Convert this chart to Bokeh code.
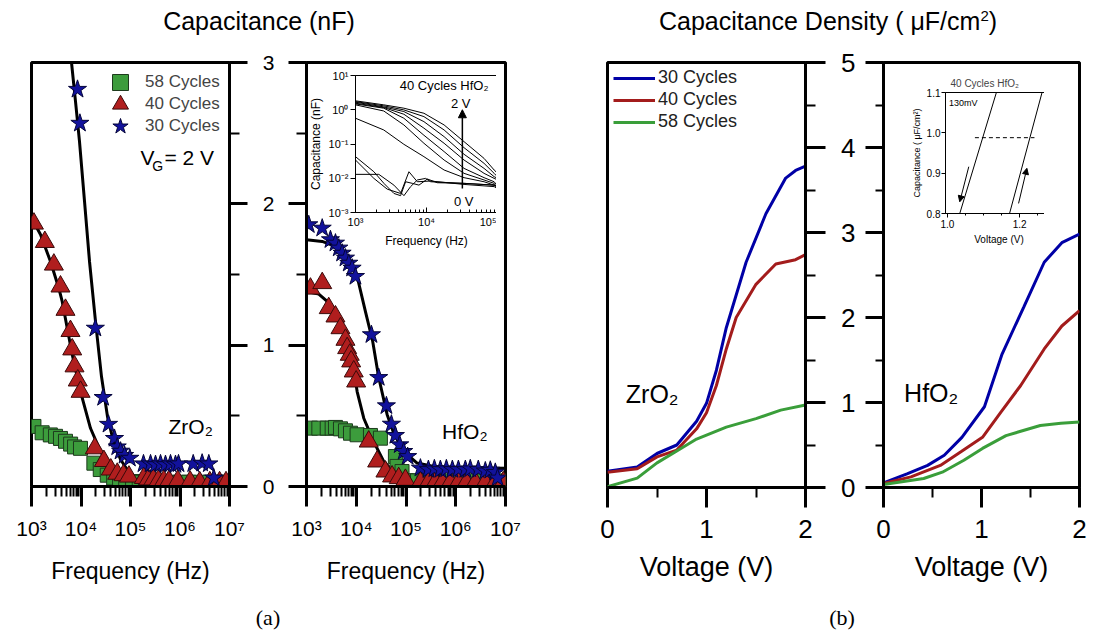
from bokeh.plotting import figure
from bokeh.models import (Range1d, FixedTicker, SingleIntervalTicker, CustomJSTickFormatter,
                          PrintfTickFormatter, Label, Arrow, NormalHead, GridBox, Legend,
                          LegendItem, Div)
from bokeh.embed import file_html
from bokeh.resources import INLINE

FONT = "Liberation Sans"
SERIF = "Liberation Serif"
BLUE_M, RED_M, GREEN_M = "#12129c", "#b01e1e", "#3c9c3c"
BLUE_L, RED_L, GREEN_L = "#0000a6", "#a31c1c", "#3a9e3a"

# ---------------- panel (a): capacitance (nF) vs frequency (Hz) ----------------
zr30_f = [8500, 9500, 19500, 28000, 36000, 47500, 54000, 63000, 76000, 97000, 183000, 254000,
          320000, 404000, 509000, 643000, 811000, 933000, 1850000, 2800000, 3820000, 4820000]
zr30_c = [2.81, 2.57, 1.12, 0.63, 0.44, 0.34, 0.28, 0.25, 0.22, 0.20, 0.16, 0.16,
          0.155, 0.16, 0.155, 0.16, 0.155, 0.16, 0.16, 0.165, 0.16, 0.06]
zr40_f = [1120, 1860, 2830, 3850, 4860, 6130, 6650, 7400, 8600, 9800, 19000, 29000, 40000, 54000,
          72000, 93000, 186000, 230000, 290000, 370000, 470000, 600000, 900000, 1600000, 2500000,
          4000000, 6300000, 8500000]
zr40_c = [1.86, 1.73, 1.57, 1.415, 1.25, 1.10, 0.97, 0.85, 0.75, 0.67, 0.27, 0.18, 0.12, 0.09,
          0.08, 0.07, 0.06, 0.05, 0.05, 0.045, 0.04, 0.04, 0.04, 0.035, 0.03, 0.03, 0.03, 0.03]
zr58_f = [1120, 1640, 2400, 3060, 3850, 4860, 6170, 7410, 9770, 18200, 24500, 33900, 45700, 60000,
          80000, 110000, 150000, 200000, 300000, 450000, 700000, 1000000, 1500000, 2500000,
          4000000, 6000000, 8500000]
zr58_c = [0.425, 0.38, 0.365, 0.355, 0.34, 0.32, 0.30, 0.28, 0.27, 0.165, 0.12, 0.08, 0.06, 0.045,
          0.04, 0.035, 0.03, 0.03, 0.03, 0.03, 0.03, 0.03, 0.03, 0.03, 0.03, 0.03, 0.03]
zr30_fit_f = [6030, 6430, 7740, 9330, 11780, 14860, 19630, 25940, 34280, 45400, 62800, 91200, 138000]
zr30_fit_c = [3.2, 3.0, 2.725, 2.44, 2.017, 1.592, 1.168, 0.778, 0.495, 0.318, 0.191, 0.106, 0.035]
zr40_fit_f = [1000, 1520, 2420, 3560, 4170, 6640, 9770, 15560, 24770, 39450, 73300, 114800]
zr40_fit_c = [1.90, 1.783, 1.592, 1.403, 1.309, 0.934, 0.672, 0.412, 0.248, 0.130, 0.047, 0.0]

hf30_f = [1110, 2070, 3030, 3820, 4460, 5200, 6070, 7080, 8260, 9640, 20200, 28300, 40400, 50900,
          61200, 74800, 89900, 108000, 195000, 282000, 372000, 491000, 648000, 855000, 1130000,
          1560000, 1960000, 2840000, 3930000, 4950000, 6240000, 6930000]
hf30_c = [1.852, 1.828, 1.746, 1.722, 1.687, 1.651, 1.616, 1.580, 1.545, 1.486, 1.074, 0.771, 0.571,
          0.441, 0.361, 0.295, 0.248, 0.212, 0.13, 0.12, 0.125, 0.12, 0.125, 0.12, 0.12, 0.12, 0.125,
          0.12, 0.11, 0.115, 0.10, 0.06]
hf40_f = [1200, 2070, 2800, 3820, 4820, 6070, 6560, 7400, 7900, 8900, 9950, 17800, 26300, 38600,
          52500, 71300, 97300, 195000, 282000, 389000, 538000, 780000, 1130000, 1630000, 2480000,
          3930000, 6240000, 9040000]
hf40_c = [1.40, 1.439, 1.262, 1.203, 1.12, 1.038, 0.979, 0.932, 0.885, 0.814, 0.743, 0.318, 0.177,
          0.106, 0.071, 0.059, 0.047, 0.03, 0.03, 0.03, 0.03, 0.03, 0.03, 0.03, 0.03, 0.03, 0.03, 0.03]
hf58_f = [1200, 1770, 2610, 3280, 3820, 4820, 6070, 7660, 10400, 19300, 30600, 61200, 66100, 83200,
          100000, 130000, 170000, 230000, 320000, 450000, 650000, 950000, 1400000, 2100000,
          3200000, 5000000, 8000000]
hf58_c = [0.413, 0.413, 0.413, 0.413, 0.418, 0.408, 0.394, 0.377, 0.366, 0.361, 0.342, 0.212, 0.142,
          0.106, 0.04, 0.04, 0.04, 0.04, 0.04, 0.04, 0.04, 0.04, 0.04, 0.04, 0.04, 0.04, 0.04]
hf30_fit_f = [1000, 2065, 3819, 7063, 10420, 15310, 21430, 28300, 41690, 56620, 89950, 167100,
              359700, 1236000, 10000000]
hf30_fit_c = [1.746, 1.734, 1.699, 1.604, 1.486, 1.238, 1.026, 0.771, 0.51, 0.376, 0.248, 0.166,
              0.141, 0.132, 0.13]
hf40_fit_f = [1000, 1766, 2606, 3819, 5530, 7656, 10420, 14160, 22440, 35650, 56620, 105200, 194600]
hf40_fit_c = [1.38, 1.361, 1.309, 1.226, 1.11, 0.979, 0.672, 0.483, 0.318, 0.177, 0.106, 0.059, 0.028]

# inset of (a): 40 cycles HfO2, gate voltage 0 V ... 2 V
ins_f = [1000, 2500, 4800, 9200, 17700, 33800, 64700, 89700, 100000]
ins_top = [
    [1.82, 1.39, 1.11, 0.79, 0.36, 0.117, 0.038, 0.0174, 0.014],
    [1.73, 1.30, 0.99, 0.63, 0.257, 0.078, 0.0272, 0.0139, 0.011],
    [1.66, 1.21, 0.885, 0.45, 0.164, 0.05, 0.0194, 0.0111, 0.010],
    [1.55, 1.16, 0.74, 0.29, 0.105, 0.034, 0.0139, 0.0099, 0.009],
    [1.48, 1.11, 0.565, 0.18, 0.06, 0.0194, 0.0104, 0.0079, 0.006],
    [1.39, 0.92, 0.36, 0.105, 0.034, 0.0139, 0.0089, 0.0071, 0.005],
    [0.565, 0.257, 0.098, 0.0427, 0.0174, 0.0104, 0.0079, 0.0063, 0.0055],
]
ins_b1_f = [1000, 1815, 2512, 3475, 4315, 5080, 6310, 7830, 10280, 14220, 33800, 89700, 100000]
ins_b1_c = [0.0427, 0.0155, 0.0071, 0.0036, 0.0031, 0.0079, 0.0071, 0.0063, 0.0095, 0.0074, 0.0071, 0.0063, 0.006]
ins_b2_f = [1000, 2130, 3475, 4810, 5970, 7430, 9730, 11460, 33800, 89700, 100000]
ins_b2_c = [0.013, 0.013, 0.0063, 0.0031, 0.0057, 0.0089, 0.0099, 0.0079, 0.0071, 0.0063, 0.0055]
ins_b3_f = [1000, 1815, 2800, 4315, 5660, 7430, 11460, 33800, 89700, 100000]
ins_b3_c = [0.034, 0.0099, 0.0048, 0.0036, 0.0155, 0.0079, 0.0083, 0.0066, 0.0057, 0.005]

# ---------------- panel (b): capacitance density vs voltage ----------------
bz30_v = [0, 0.3, 0.5, 0.7, 0.9, 1.0, 1.1, 1.2, 1.4, 1.6, 1.8, 1.9, 2.0]
bz30_d = [0.19, 0.24, 0.40, 0.50, 0.78, 0.99, 1.38, 1.88, 2.65, 3.22, 3.64, 3.73, 3.78]
bz40_v = [0, 0.3, 0.5, 0.7, 0.9, 1.0, 1.1, 1.2, 1.3, 1.5, 1.7, 1.9, 2.0]
bz40_d = [0.18, 0.22, 0.36, 0.44, 0.69, 0.88, 1.20, 1.63, 2.0, 2.39, 2.63, 2.68, 2.74]
bz58_v = [0, 0.3, 0.5, 0.7, 0.9, 1.2, 1.5, 1.75, 2.0]
bz58_d = [0.01, 0.11, 0.29, 0.43, 0.57, 0.71, 0.81, 0.91, 0.97]
bh30_v = [0, 0.24, 0.45, 0.62, 0.8, 1.03, 1.21, 1.43, 1.64, 1.82, 2.0]
bh30_d = [0.055, 0.16, 0.26, 0.38, 0.59, 0.95, 1.57, 2.12, 2.65, 2.88, 2.98]
bh40_v = [0, 0.28, 0.58, 0.79, 1.01, 1.2, 1.4, 1.64, 1.82, 2.0]
bh40_d = [0.047, 0.125, 0.26, 0.42, 0.59, 0.89, 1.2, 1.63, 1.9, 2.08]
bh58_v = [0, 0.41, 0.6, 0.82, 1.01, 1.25, 1.6, 1.81, 2.0]
bh58_d = [0.035, 0.106, 0.18, 0.32, 0.46, 0.61, 0.73, 0.755, 0.77]

# inset of (b): hysteresis, 40 cycles HfO2
ib_down_v = [1.034, 1.1355]
ib_down_d = [0.8, 1.1]
ib_up_v = [1.172, 1.262]
ib_up_d = [0.8, 1.1]
ib_mid_v = [1.076, 1.241]
ib_mid_d = [0.988, 0.988]

SUP = CustomJSTickFormatter(code="""
const s = {'-':'\u207b','0':'\u2070','1':'\u00b9','2':'\u00b2','3':'\u00b3','4':'\u2074',
           '5':'\u2075','6':'\u2076','7':'\u2077','8':'\u2078','9':'\u2079'};
const e = String(Math.round(Math.log10(tick)));
return '10' + e.split('').map(c => s[c]).join('');
""")
EMPTY = CustomJSTickFormatter(code="return ''")


def log_ticker(e0, e1, minor=True):
    major = [10.0 ** e for e in range(e0, e1 + 1)]
    mn = [m * 10.0 ** e for e in range(e0, e1) for m in range(2, 10)] if minor else []
    return FixedTicker(ticks=major, minor_ticks=mn)


def base(xr, yr, xlog, fw, fh, bl, br, bt, bb, yloc):
    p = figure(x_axis_type="log" if xlog else "linear",
               x_range=xr, y_range=yr, frame_width=fw, frame_height=fh,
               min_border_left=bl, min_border_right=br, min_border_top=bt, min_border_bottom=bb,
               y_axis_location=yloc, output_backend="svg", toolbar_location=None, title=None)
    p.xgrid.visible = False
    p.ygrid.visible = False
    p.outline_line_color = "black"
    p.outline_line_width = 3
    p.outline_line_alpha = 1
    p.background_fill_color = "white"
    p.border_fill_color = "white"
    return p


def style_axis(ax, font_px, maj_out, min_out, standoff, lw=3, mw=2, maj_in=0, min_in=0):
    ax.axis_line_width = lw
    ax.axis_line_color = "black"
    ax.major_tick_line_width = lw
    ax.minor_tick_line_width = mw
    ax.major_tick_line_color = "black"
    ax.minor_tick_line_color = "black"
    ax.major_tick_out = maj_out
    ax.major_tick_in = maj_in
    ax.minor_tick_out = min_out
    ax.minor_tick_in = min_in
    ax.major_label_text_font = FONT
    ax.major_label_text_font_size = f"{font_px}px"
    ax.major_label_text_color = "black"
    ax.major_label_standoff = standoff
    ax.axis_label_text_font = FONT
    ax.axis_label_text_font_style = "normal"
    ax.axis_label_text_color = "black"


def xlabel(ax, text, px, standoff):
    ax.axis_label = text
    ax.axis_label_text_font_size = f"{px}px"
    ax.axis_label_standoff = standoff


def lab(p, x, y, text, px, align="left", font=FONT, color="black"):
    p.add_layout(Label(x=x, y=y, text=text, text_font=font, text_font_size=f"{px}px",
                       text_align=align, text_baseline="middle", text_color=color))


# ---------- (a) ZrO2 ----------
A1 = base(Range1d(1e3, 1e7), Range1d(0, 3), True, 198, 424, 31, 21, 24, 106, "right")
ax = A1.xaxis[0]
ax.ticker = log_ticker(3, 7)
ax.formatter = SUP
style_axis(ax, 21, 20, 10, 10)
xlabel(ax, "Frequency (Hz)", 23, 15)
ay = A1.yaxis[0]
ay.ticker = SingleIntervalTicker(interval=1, num_minor_ticks=2)
ay.formatter = EMPTY
style_axis(ay, 21, 18, 10, 0)

A1.line(zr30_fit_f, zr30_fit_c, line_color="black", line_width=3)
A1.line(zr40_fit_f, zr40_fit_c, line_color="black", line_width=3)
r58 = A1.scatter(zr58_f, zr58_c, marker="square", size=14, fill_color=GREEN_M, line_color="#1d3b1d",
                 line_width=1)
r40 = A1.scatter(zr40_f, zr40_c, marker="triangle", size=19, fill_color=RED_M, line_color="#3a0a0a",
                 line_width=1)
r30 = A1.scatter(zr30_f, zr30_c, marker="star", size=19, fill_color=BLUE_M, line_color="#05053a",
                 line_width=1)
for name, rend, ypos in [("58 Cycles", r58, 384), ("40 Cycles", r40, 362), ("30 Cycles", r30, 340)]:
    lg = Legend(items=[LegendItem(label=name, renderers=[rend])], location=(69, ypos),
                glyph_width=40, glyph_height=40, spacing=0, label_standoff=5, padding=0, margin=0,
                border_line_color=None, background_fill_alpha=0, label_text_font=FONT,
                label_text_font_size="17px", label_height=19)
    A1.add_layout(lg)

lab(A1, 159200, 2.33, "V", 21)
lab(A1, 274000, 2.265, "G", 14)
lab(A1, 486000, 2.33, "= 2 V", 21)
lab(A1, 586000, 0.421, "ZrO\u2082", 21)

# ---------- (a) HfO2 ----------
A2 = base(Range1d(1e3, 1e7), Range1d(0, 3), True, 199, 424, 56, 55, 24, 106, "left")
ax = A2.xaxis[0]
ax.ticker = log_ticker(3, 7)
ax.formatter = SUP
style_axis(ax, 21, 20, 10, 10)
xlabel(ax, "Frequency (Hz)", 23, 15)
ay = A2.yaxis[0]
ay.ticker = SingleIntervalTicker(interval=1, num_minor_ticks=2)
style_axis(ay, 21, 18, 10, 14)

A2.line(hf30_fit_f, hf30_fit_c, line_color="black", line_width=3)
A2.line(hf40_fit_f, hf40_fit_c, line_color="black", line_width=3)
A2.scatter(hf58_f, hf58_c, marker="square", size=14, fill_color=GREEN_M, line_color="#1d3b1d", line_width=1)
A2.scatter(hf40_f, hf40_c, marker="triangle", size=19, fill_color=RED_M, line_color="#3a0a0a", line_width=1)
A2.scatter(hf30_f, hf30_c, marker="star", size=19, fill_color=BLUE_M, line_color="#05053a", line_width=1)
lab(A2, 531000, 0.389, "HfO\u2082", 21)

# ---------- inset of (a) ----------
IA = figure(x_axis_type="log", y_axis_type="log", x_range=Range1d(1e3, 1e5), y_range=Range1d(1e-3, 1e1),
            frame_width=142, frame_height=137, min_border_left=48, min_border_right=5,
            min_border_top=24, min_border_bottom=37, output_backend="svg", toolbar_location=None,
            title=None, margin=(13, 0, 0, 49))
IA.xgrid.visible = False
IA.ygrid.visible = False
IA.border_fill_color = None
IA.background_fill_color = "white"
IA.outline_line_color = "black"
IA.outline_line_width = 1
ax = IA.xaxis[0]
ax.ticker = log_ticker(3, 5)
ax.formatter = SUP
style_axis(ax, 11, 0, 0, 3, lw=1, mw=1, maj_in=5, min_in=3)
xlabel(ax, "Frequency (Hz)", 12, 3)
ay = IA.yaxis[0]
ay.ticker = log_ticker(-3, 1, minor=False)
ay.formatter = SUP
style_axis(ay, 11, 5, 0, 2, lw=1, mw=1)
xlabel(ay, "Capacitance (nF)", 12, 3)
for c in ins_top:
    IA.line(ins_f, c, line_color="black", line_width=1)
IA.line(ins_b1_f, ins_b1_c, line_color="black", line_width=1)
IA.line(ins_b2_f, ins_b2_c, line_color="black", line_width=1)
IA.line(ins_b3_f, ins_b3_c, line_color="black", line_width=1)
IA.add_layout(Arrow(end=NormalHead(size=8, fill_color="black", line_color="black"),
                    x_start=32000, y_start=0.005, x_end=32000, y_end=1.0,
                    line_color="black", line_width=1.5))
lab(IA, 17700, 5.09, "40 Cycles HfO\u2082", 13, align="center")
lab(IA, 30300, 1.55, "2 V", 13, align="center")
lab(IA, 33400, 0.00206, "0 V", 13, align="center")

# ---------- (b) ZrO2 ----------
B1 = base(Range1d(0, 2), Range1d(0, 5), False, 198, 425, 47, 25, 24, 105, "right")
ax = B1.xaxis[0]
ax.ticker = SingleIntervalTicker(interval=1, num_minor_ticks=2)
style_axis(ax, 26, 20, 10, 12)
xlabel(ax, "Voltage (V)", 27, 11)
ay = B1.yaxis[0]
ay.ticker = SingleIntervalTicker(interval=1, num_minor_ticks=2)
ay.formatter = EMPTY
style_axis(ay, 26, 20, 10, 0)
B1.line(bz30_v, bz30_d, line_color=BLUE_L, line_width=3, legend_label="30 Cycles")
B1.line(bz40_v, bz40_d, line_color=RED_L, line_width=3, legend_label="40 Cycles")
B1.line(bz58_v, bz58_d, line_color=GREEN_L, line_width=3, legend_label="58 Cycles")
lg = B1.legend[0]
lg.location = (6, 355)
lg.glyph_width = 42
lg.glyph_height = 20
lg.label_height = 20
lg.spacing = 1
lg.label_standoff = 3
lg.padding = 0
lg.margin = 0
lg.border_line_color = None
lg.background_fill_alpha = 0
lg.label_text_font = FONT
lg.label_text_font_size = "18px"
lg.label_text_color = "#222222"
lab(B1, 0.185, 1.098, "ZrO\u2082", 25)

# ---------- (b) HfO2 ----------
B2 = base(Range1d(0, 2), Range1d(0, 5), False, 196, 425, 53, 17, 24, 105, "left")
ax = B2.xaxis[0]
ax.ticker = SingleIntervalTicker(interval=1, num_minor_ticks=2)
style_axis(ax, 26, 20, 10, 12)
xlabel(ax, "Voltage (V)", 27, 11)
ay = B2.yaxis[0]
ay.ticker = SingleIntervalTicker(interval=1, num_minor_ticks=2)
style_axis(ay, 26, 18, 8, 10)
B2.line(bh30_v, bh30_d, line_color=BLUE_L, line_width=3)
B2.line(bh40_v, bh40_d, line_color=RED_L, line_width=3)
B2.line(bh58_v, bh58_d, line_color=GREEN_L, line_width=3)
lab(B2, 0.21, 1.11, "HfO\u2082", 25)

# ---------- inset of (b) ----------
IB = figure(x_range=Range1d(0.9945, 1.291), y_range=Range1d(0.8, 1.1),
            frame_width=107, frame_height=121, min_border_left=40, min_border_right=5,
            min_border_top=25, min_border_bottom=36, output_backend="svg", toolbar_location=None,
            margin=(30, 0, 0, 62), title="40 Cycles HfO\u2082")
IB.xgrid.visible = False
IB.ygrid.visible = False
IB.border_fill_color = None
IB.background_fill_color = "white"
IB.outline_line_color = "black"
IB.outline_line_width = 1
IB.title.text_font = FONT
IB.title.text_font_size = "10px"
IB.title.text_font_style = "normal"
IB.title.align = "left"
IB.title.offset = 5
IB.title.standoff = 8
ax = IB.xaxis[0]
ax.ticker = FixedTicker(ticks=[1.0, 1.2], minor_ticks=[1.05, 1.1, 1.15, 1.25])
ax.formatter = PrintfTickFormatter(format="%.1f")
style_axis(ax, 10, 4, 2, 2, lw=1, mw=1)
xlabel(ax, "Voltage (V)", 10, 3)
ay = IB.yaxis[0]
ay.ticker = FixedTicker(ticks=[0.8, 0.9, 1.0, 1.1], minor_ticks=[])
ay.formatter = PrintfTickFormatter(format="%.1f")
style_axis(ay, 10, 4, 0, 1, lw=1, mw=1)
xlabel(ay, "Capacitance ( \u03bcF/cm\u00b2)", 9, 2)
IB.line(ib_down_v, ib_down_d, line_color="black", line_width=1)
IB.line(ib_up_v, ib_up_d, line_color="black", line_width=1)
IB.line(ib_mid_v, ib_mid_d, line_color="black", line_width=1, line_dash="4 3")
IB.add_layout(Arrow(end=NormalHead(size=6, fill_color="black", line_color="black"),
                    x_start=1.059, y_start=0.916, x_end=1.034, y_end=0.829, line_width=1))
IB.add_layout(Arrow(end=NormalHead(size=6, fill_color="black", line_color="black"),
                    x_start=1.197, y_start=0.825, x_end=1.220, y_end=0.912, line_width=1))
lab(IB, 1.004, 1.073, "130mV", 9)


# ---------- titles and captions (HTML text strips) ----------
def text_strip(h, items):
    spans = "".join(
        f'<span style="position:absolute;left:{x}px;top:{y}px;transform:translate(-50%,-50%);'
        f'white-space:nowrap;font-family:\'{font}\';font-size:{px}px;color:#000;line-height:1;">{t}</span>'
        for (x, y, t, font, px) in items)
    html = f'<div style="position:relative;width:1096px;height:{h}px;overflow:hidden;background:#fff;">{spans}</div>'
    return Div(text=html, width=1096, height=h, margin=0)


T = text_strip(37, [(259, 21, "Capacitance (nF)", FONT, 25),
                    (828, 21, "Capacitance Density ( \u03bcF/cm<sup style=\"font-size:0.6em\">2</sup>)", FONT, 25)])
C = text_strip(45, [(268, 27, "(a)", SERIF, 22), (842, 27, "(b)", SERIF, 22)])

grid = GridBox(children=[
    (T, 0, 0, 1, 4),
    (A1, 1, 0), (A2, 1, 1), (B1, 1, 2), (B2, 1, 3),
    (IA, 1, 1), (IB, 1, 3),
    (C, 2, 0, 1, 4),
], rows=["37px", "554px", "45px"], cols=["250px", "310px", "270px", "266px"], spacing=0)

open("out.html", "w").write(file_html(grid, INLINE))
